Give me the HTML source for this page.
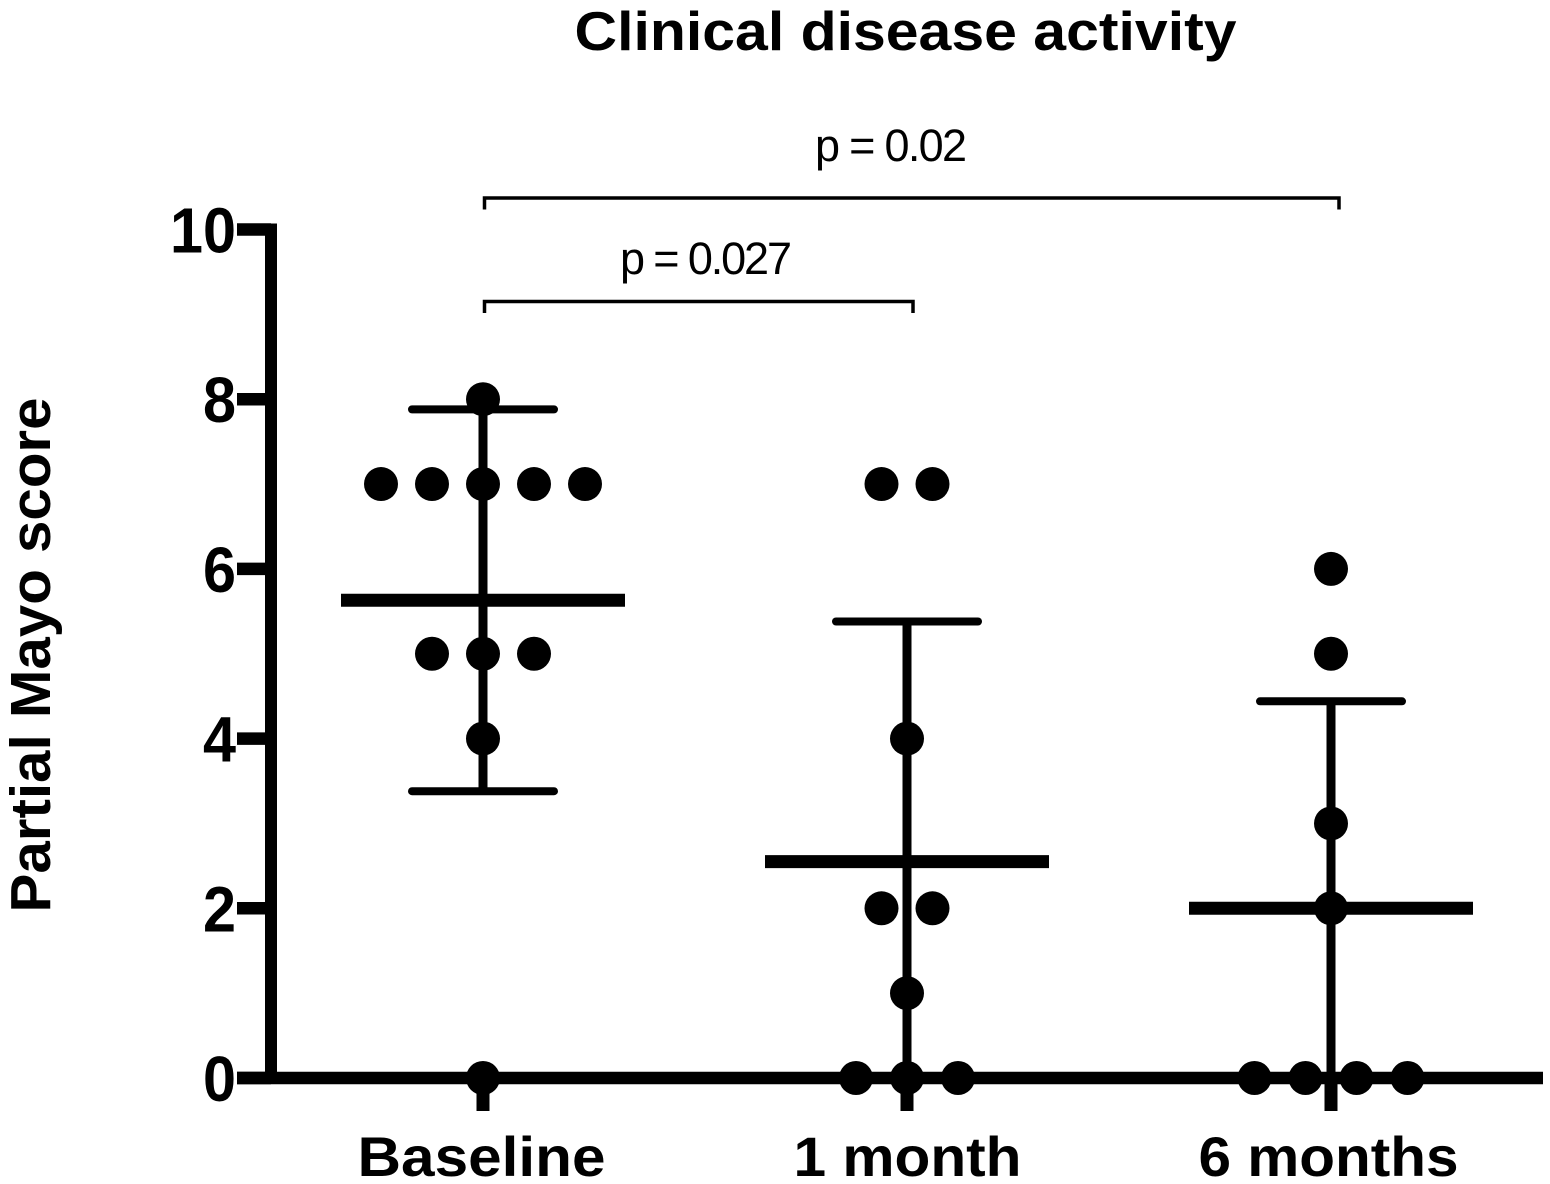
<!DOCTYPE html>
<html lang="en">
<head>
<meta charset="utf-8">
<title>Clinical disease activity</title>
<style>
html,body{margin:0;padding:0;background:#fff;}
svg{display:block;}
text{font-family:"Liberation Sans",Arial,sans-serif;fill:#000;}
</style>
</head>
<body>
<svg id="chart" xmlns="http://www.w3.org/2000/svg" width="1550" height="1184" viewBox="0 0 1550 1184">
  <text x="905.5" y="50" text-anchor="middle" font-size="55" font-weight="700" textLength="662" lengthAdjust="spacingAndGlyphs">Clinical disease activity</text>
  <text transform="translate(50,655) rotate(-90)" text-anchor="middle" font-size="57" font-weight="700" textLength="515" lengthAdjust="spacingAndGlyphs">Partial Mayo score</text>
</svg>
<script>
const categories = ['Baseline', '1 month', '6 months'];
const yTicks = [0, 2, 4, 6, 8, 10];
const means = [5.63, 2.55, 2.0];
const errorTops = [7.88, 5.38, 4.44];
const errorBottoms = [3.38, 0, 0];
const baselineScores = [8, 7, 7, 7, 7, 7, 5, 5, 5, 4, 0];
const oneMonthScores = [7, 7, 4, 2, 2, 1, 0, 0, 0];
const sixMonthScores = [6, 5, 3, 2, 0, 0, 0, 0];
const seriesScores = [baselineScores, oneMonthScores, sixMonthScores];
const comparisons = [
  { from: 0, to: 1, label: 'p = 0.027' },
  { from: 0, to: 2, label: 'p = 0.02' }
];

const svg = document.getElementById('chart');
const NS = 'http://www.w3.org/2000/svg';
const yZero = 1078, yUnit = 84.85;
const xStart = 483, xStep = 424, dotStep = 51;
const y = v => yZero - v * yUnit;
const x = i => xStart + i * xStep;
const ink = '#000';

function make(tag, attrs) {
  const el = document.createElementNS(NS, tag);
  for (const k in attrs) el.setAttribute(k, attrs[k]);
  svg.appendChild(el);
  return el;
}
function line(x1, y1, x2, y2, w) {
  return make('line', { x1, y1, x2, y2, stroke: ink, 'stroke-width': w });
}

// y axis and ticks
const yAxis = line(271, y(10) - 6, 271, yZero, 12);


yTicks.forEach(t => {
  const tick = line(237, y(t), 271, y(t), 12.5);
  
  
  const lab = make('text', {
    x: 236, y: y(t) + 23, 'text-anchor': 'end', 'font-size': 64, 'font-weight': 700,
    textLength: String(t).length * 33, lengthAdjust: 'spacingAndGlyphs'
  });
  lab.textContent = t;
  
  
});

// x axis and ticks
const xAxis = line(237, yZero, 1543, yZero, 12.5);


const xLabelShift = [-1.5, 0.5, -2.5];
const xLabelLength = [248, 228, 260];
categories.forEach((c, i) => {
  const tick = line(x(i), yZero, x(i), 1111, 13);
  
  
  const lab = make('text', {
    x: x(i) + xLabelShift[i], y: 1176, 'text-anchor': 'middle', 'font-size': 56, 'font-weight': 700,
    textLength: xLabelLength[i], lengthAdjust: 'spacingAndGlyphs'
  });
  lab.textContent = c;
  
  
});

// mean and error bars
categories.forEach((c, i) => {
  const stem = line(x(i), y(errorTops[i]), x(i), y(errorBottoms[i]), 9);
  
  
  const capTop = line(x(i) - 71, y(errorTops[i]), x(i) + 71, y(errorTops[i]), 8);
  capTop.setAttribute('stroke-linecap', 'round');
  
  
  if (errorBottoms[i] > 0) {
    const capBottom = line(x(i) - 71, y(errorBottoms[i]), x(i) + 71, y(errorBottoms[i]), 8);
    capBottom.setAttribute('stroke-linecap', 'round');
    
    
  }
  const mean = line(x(i) - 142, y(means[i]), x(i) + 142, y(means[i]), 13);
  
  
});

// data points: equal scores are spread symmetrically around the category
seriesScores.forEach((scores, i) => {
  const seen = {};
  scores.forEach(s => {
    const total = scores.filter(v => v === s).length;
    seen[s] = (seen[s] || 0) + 1;
    const offset = seen[s] - 1 - (total - 1) / 2;
    const dot = make('circle', { cx: x(i) + offset * dotStep, cy: y(s), r: 17, fill: ink });
    
    
  });
});

// significance brackets
const bracketYs = [301.5, 198];
const bracketEnds = [913, 1339];
const bracketLabelXs = [706, 891];
const bracketLabelYs = [274, 161];
const bracketLabelWidths = [172, 152];
comparisons.forEach((cmp, k) => {
  const b = make('path', {
    d: 'M484.5 ' + (bracketYs[k] + 11.5) + 'V' + bracketYs[k] + 'H' + bracketEnds[k] + 'V' + (bracketYs[k] + 11.5),
    fill: 'none', stroke: ink, 'stroke-width': 3.5
  });
  
  
  const t = make('text', {
    x: bracketLabelXs[k], y: bracketLabelYs[k], 'text-anchor': 'middle', 'font-size': 45,
    textLength: bracketLabelWidths[k], lengthAdjust: 'spacing'
  });
  t.textContent = cmp.label;
  
  
});
</script>
</body>
</html>
